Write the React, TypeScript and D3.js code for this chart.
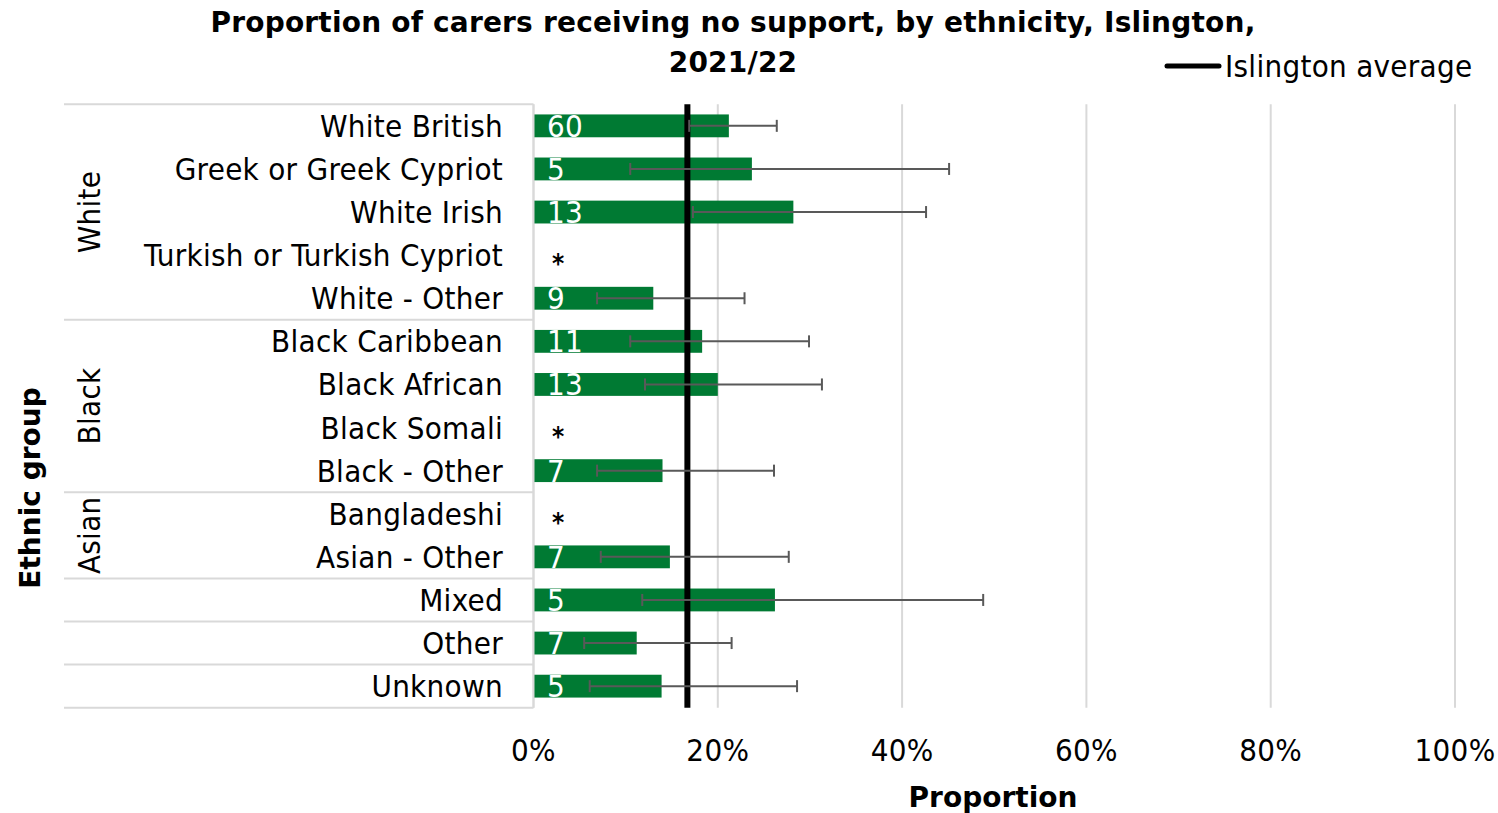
import React from "react";
import * as d3 from "d3";

const categories = [
  "White British",
  "Greek or Greek Cypriot",
  "White Irish",
  "Turkish or Turkish Cypriot",
  "White - Other",
  "Black Caribbean",
  "Black African",
  "Black Somali",
  "Black - Other",
  "Bangladeshi",
  "Asian - Other",
  "Mixed",
  "Other",
  "Unknown",
];
const counts: (number | null)[] = [60, 5, 13, null, 9, 11, 13, null, 7, null, 7, 5, 7, 5];
const proportions: (number | null)[] = [0.212, 0.237, 0.282, null, 0.13, 0.183, 0.2, null, 0.14, null, 0.148, 0.262, 0.112, 0.139];
const lowerCI: (number | null)[] = [0.169, 0.105, 0.173, null, 0.069, 0.105, 0.121, null, 0.069, null, 0.073, 0.118, 0.055, 0.061];
const upperCI: (number | null)[] = [0.264, 0.451, 0.426, null, 0.229, 0.299, 0.313, null, 0.261, null, 0.277, 0.488, 0.215, 0.286];
const islingtonAverage = 0.167;

const groupNames = ["White", "Black", "Asian", "", "", ""];
const groupSizes = [5, 4, 2, 1, 1, 1];

const xTicks = [0, 0.2, 0.4, 0.6, 0.8, 1.0];

const titleLines = ["Proportion of carers receiving no support, by ethnicity, Islington,", "2021/22"];

const FONT = "'DejaVu Sans Condensed', 'DejaVu Sans', sans-serif";
const BOLDFONT = "'DejaVu Sans', sans-serif";
const GREEN = "#007A33";
const GRID = "#D9D9D9";
const ERR = "#595959";

export default function App() {
  const W = 1498;
  const H = 813;
  const plotLeft = 533.5;
  const plotRight = 1455;
  const plotTop = 104.3;
  const plotBottom = 707.7;
  const tableLeft = 64;

  const x = d3.scaleLinear().domain([0, 1]).range([plotLeft, plotRight]);
  const y = d3
    .scaleBand<string>()
    .domain(categories)
    .range([plotTop, plotBottom])
    .paddingInner(0.47)
    .paddingOuter(0.235);
  const step = y.step();
  const rowTop = (i: number) => plotTop + i * step;
  const rowCenter = (i: number) => plotTop + (i + 0.5) * step;

  const boundaries: number[] = [0];
  groupSizes.forEach((s) => boundaries.push(boundaries[boundaries.length - 1] + s));

  return (
    <svg
      width={W}
      height={H}
      style={{ position: "absolute", left: 0, top: 0, background: "#fff" }}
      fontFamily={FONT}
    >
      <rect x={0} y={0} width={W} height={H} fill="#fff" />
      {/* title */}
      {titleLines.map((t, i) => (
        <text
          key={i}
          x={733}
          y={32 + i * 40}
          textAnchor="middle"
          fontWeight="bold"
          fontFamily={BOLDFONT}
          fontSize={28}
          letterSpacing={0.2}
          fill="#000"
        >
          {t}
        </text>
      ))}

      {/* legend */}
      <line x1={1167} x2={1219} y1={66} y2={66} stroke="#000" strokeWidth={5} strokeLinecap="round" />
      <text x={1225} y={77} fontSize={31} letterSpacing={0.3} fill="#000">
        Islington average
      </text>

      {/* gridlines */}
      {xTicks.map((t) => (
        <line key={t} x1={x(t)} x2={x(t)} y1={plotTop} y2={plotBottom} stroke={GRID} strokeWidth={2} />
      ))}

      {/* table lines */}
      {boundaries.map((b, i) => (
        <line
          key={"b" + i}
          x1={tableLeft}
          x2={plotLeft}
          y1={rowTop(b)}
          y2={rowTop(b)}
          stroke={GRID}
          strokeWidth={2}
        />
      ))}

      {/* group labels */}
      {groupNames.map((g, i) =>
        g ? (
          <text
            key={"g" + i}
            transform={`translate(${100},${(rowTop(boundaries[i]) + rowTop(boundaries[i + 1])) / 2}) rotate(-90)`}
            textAnchor="middle"
            fontSize={31}
            letterSpacing={0.3}
            fill="#000"
          >
            {g}
          </text>
        ) : null
      )}

      {/* category labels */}
      {categories.map((c, i) => (
        <text key={c} x={503} y={rowCenter(i) + 11} textAnchor="end" fontSize={31} letterSpacing={0.3} fill="#000">
          {c}
        </text>
      ))}

      {/* bars */}
      {categories.map((c, i) => {
        const v = proportions[i];
        if (v == null) return null;
        return <rect key={"r" + c} x={x(0)} y={y(c)!} width={x(v) - x(0)} height={y.bandwidth()} fill={GREEN} />;
      })}

      {/* data labels */}
      {categories.map((c, i) => {
        const n = counts[i];
        if (n == null)
          return (
            <text key={"l" + c} x={558} y={rowCenter(i) + 18} textAnchor="middle" fontSize={26} fontWeight="bold" fill="#000">
              *
            </text>
          );
        return (
          <text key={"l" + c} x={547} y={rowCenter(i) + 11} fontSize={31} letterSpacing={0.3} fill="#fff">
            {n}
          </text>
        );
      })}

      {/* average line */}
      <line
        x1={x(islingtonAverage)}
        x2={x(islingtonAverage)}
        y1={plotTop}
        y2={plotBottom}
        stroke="#000"
        strokeWidth={6}
      />

      {/* error bars */}
      {categories.map((c, i) => {
        const lo = lowerCI[i];
        const hi = upperCI[i];
        if (lo == null || hi == null) return null;
        const cy = rowCenter(i);
        return (
          <g key={"e" + c} stroke={ERR} strokeWidth={2}>
            <line x1={x(lo)} x2={x(hi)} y1={cy} y2={cy} />
            <line x1={x(lo)} x2={x(lo)} y1={cy - 6} y2={cy + 6} />
            <line x1={x(hi)} x2={x(hi)} y1={cy - 6} y2={cy + 6} />
          </g>
        );
      })}

      {/* left plot border */}
      <line x1={plotLeft} x2={plotLeft} y1={plotTop} y2={plotBottom} stroke={GRID} strokeWidth={2} />

      {/* x tick labels */}
      {xTicks.map((t) => (
        <text key={"t" + t} x={x(t)} y={761} textAnchor="middle" fontSize={31} letterSpacing={0.3} fill="#000">
          {d3.format(".0%")(t)}
        </text>
      ))}

      {/* axis titles */}
      <text x={993} y={807} textAnchor="middle" fontSize={28} fontWeight="bold" fontFamily={BOLDFONT} fill="#000">
        Proportion
      </text>
      <text
        transform={`translate(40,${(plotTop + plotBottom) / 2 + 82}) rotate(-90)`}
        textAnchor="middle"
        fontSize={28}
        fontWeight="bold"
        fontFamily={BOLDFONT}
        fill="#000"
      >
        Ethnic group
      </text>
    </svg>
  );
}
